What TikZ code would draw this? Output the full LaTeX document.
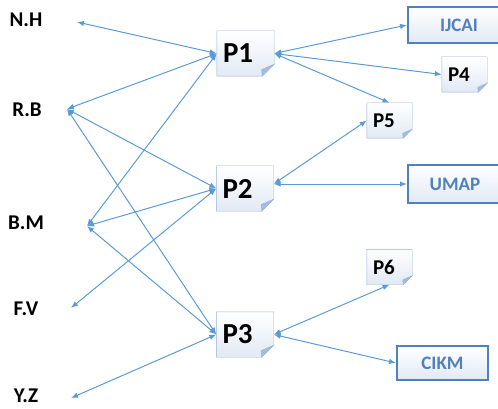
\documentclass[tikz,border=0pt]{standalone}
\usepackage{fontspec}
\setmainfont{Carlito}
\usetikzlibrary{arrows.meta,backgrounds}
\definecolor{linkblue}{RGB}{91,155,213}
\definecolor{venueblue}{RGB}{79,129,189}
\definecolor{paperline}{RGB}{149,179,215}
\definecolor{paperfill}{RGB}{226,233,244}
\definecolor{foldfill}{RGB}{165,188,224}
\begin{document}
\begin{tikzpicture}
[x=1pt,y=-1pt,
>={Latex[length=7pt,width=5.5pt]},
link/.style={<->,linkblue,line width=1pt},
author/.style={font=\fontsize{21}{22}\selectfont\bfseries},
bigpaper/.style={minimum width=57pt,minimum height=45pt,text width=45pt,
  inner xsep=6pt,align=left,font=\fontsize{29}{30}\selectfont\bfseries},
smallpaper/.style={minimum width=45pt,minimum height=35pt,text width=33pt,
  inner xsep=6pt,align=left,font=\fontsize{21}{22}\selectfont\bfseries},
venue/.style={draw=venueblue,line width=2pt,top color=white,bottom color=paperfill,
  text=venueblue,minimum height=36pt,font=\fontsize{19}{20}\selectfont\bfseries}]
  \useasboundingbox (0,0) rectangle (498,409);
  \clip (0,0) rectangle (498,409);
  \node[author] (nh) at (26,20) {N.H};
  \node[author] (rb) at (27,110) {R.B};
  \node[author] (bm) at (26,223) {B.M};
  \node[author] (fv) at (26,309) {F.V};
  \node[author] (yz) at (26,396) {Y.Z};
  \coordinate (nh-end) at (77,22);
  \coordinate (rb-end) at (67,109);
  \coordinate (bm-end) at (87,226);
  \coordinate (fv-end) at (71,308);
  \coordinate (yz-end) at (71,398);
  \node[bigpaper] (P1) at (245.5,53.5) {P1};
  \node[bigpaper] (P2) at (245,188.5) {P2};
  \node[bigpaper] (P3) at (245,334.5) {P3};
  \node[smallpaper] (P4) at (464.5,74.5) {P4};
  \node[smallpaper] (P5) at (389.5,120.5) {P5};
  \node[smallpaper] (P6) at (389.5,267) {P6};
  \node[venue,minimum width=102pt] (ijcai) at (459,25) {IJCAI};
  \node[venue,minimum width=94pt,minimum height=38pt] (umap) at (455,184) {UMAP};
  \node[venue,minimum width=91pt,minimum height=34pt] (cikm) at (442.5,363) {CIKM};
  \begin{scope}[on background layer]
  \foreach \p/\c in {P1/12,P2/12,P3/12,P4/9,P5/9,P6/9}{
    \draw[paperline,top color=white,bottom color=paperfill] (\p.north west) -- (\p.north east)
      -- ([yshift=\c]\p.south east) -- ([xshift=-\c]\p.south east) -- (\p.south west) -- cycle;
    \draw[paperline,fill=foldfill] ([yshift=\c]\p.south east) -- ([xshift=-\c]\p.south east)
      -- ([xshift=-1.05*\c,yshift=0.55*\c]\p.south east) -- cycle;
  }
  \end{scope}
  \coordinate (P2r) at (P2.east |- umap.west);
  \draw[link] (P1.west) -- (nh-end);
  \draw[link] (P1.west) -- (rb-end);
  \draw[link] (P1.west) -- (bm-end);
  \draw[link] (P2.west) -- (rb-end);
  \draw[link] (P2.west) -- (bm-end);
  \draw[link] (P2.west) -- (fv-end);
  \draw[link] (P3.west) -- (rb-end);
  \draw[link] (P3.west) -- (bm-end);
  \draw[link] (P3.west) -- (yz-end);
  \draw[link] (P1.east) -- (ijcai.west);
  \draw[link] (P1.east) -- (P4.west);
  \draw[link] (P1.east) -- (P5.north);
  \draw[link] (P2r) -- (P5.west);
  \draw[link] (P2r) -- (umap.west);
  \draw[link] (P3.east) -- (P6.south);
  \draw[link] (P3.east) -- (cikm.west);
\end{tikzpicture}
\end{document}
